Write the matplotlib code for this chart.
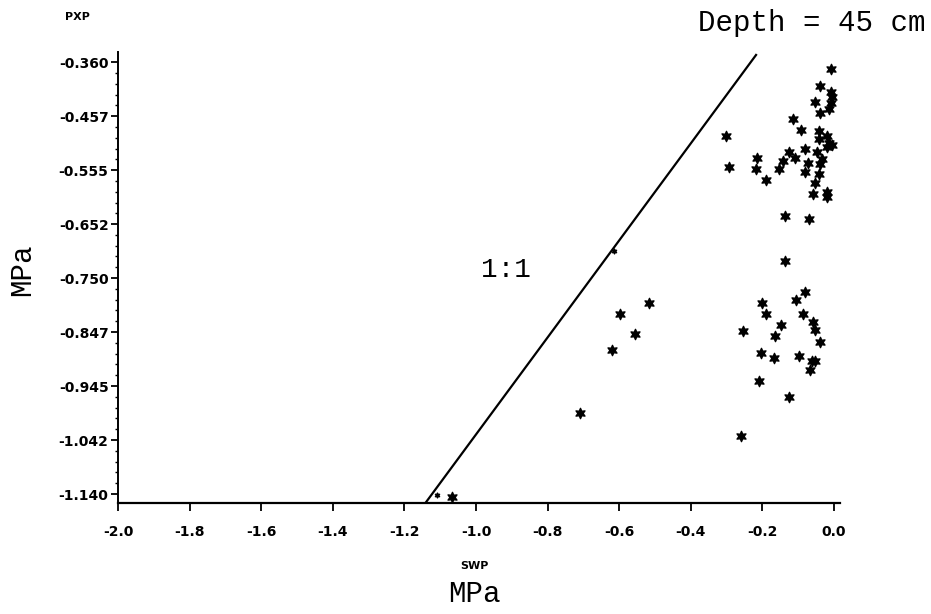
import matplotlib
matplotlib.use("Agg")
import matplotlib.pyplot as plt
from matplotlib.ticker import FixedLocator

# SWP (x) and PXP (y) readings, MPa
swp = [-0.008, -0.039, -0.008, -0.006, -0.053, -0.008, -0.014, -0.037, -0.115, -0.301,
       -0.090, -0.042, -0.020, -0.042, -0.014, -0.006, -0.020, -0.079, -0.126, -0.048,
       -0.034, -0.107, -0.213, -0.143, -0.292, -0.216, -0.073, -0.039, -0.154, -0.081,
       -0.042, -0.188, -0.051, -0.059, -0.020, -0.020, -0.135, -0.070,
       -0.135, -0.081, -0.199, -0.104, -0.188, -0.087, -0.059, -0.146, -0.053, -0.253,
       -0.163, -0.037, -0.202, -0.166, -0.098, -0.062, -0.051, -0.067, -0.208, -0.124,
       -0.258,
       -0.517, -0.596, -0.556, -0.621, -0.708, -1.067]
pxp = [-0.373, -0.403, -0.414, -0.423, -0.432, -0.434, -0.445, -0.452, -0.463, -0.494,
       -0.483, -0.485, -0.494, -0.499, -0.506, -0.510, -0.513, -0.517, -0.523, -0.523,
       -0.535, -0.533, -0.533, -0.539, -0.550, -0.553, -0.542, -0.544, -0.553, -0.559,
       -0.562, -0.573, -0.578, -0.598, -0.595, -0.604, -0.638, -0.643,
       -0.719, -0.775, -0.795, -0.790, -0.815, -0.815, -0.829, -0.835, -0.844, -0.846,
       -0.855, -0.866, -0.885, -0.894, -0.891, -0.900, -0.900, -0.916, -0.936, -0.965,
       -1.035,
       -0.795, -0.815, -0.851, -0.880, -0.994, -1.145]

# small marks lying on the 1:1 line
small_x = [-0.615, -1.110]
small_y = [-0.701, -1.142]

# the drawn "1:1" line
line_x = [-1.141, -0.217]
line_y = [-1.156, -0.347]

xticks = [-2.0, -1.8, -1.6, -1.4, -1.2, -1.0, -0.8, -0.6, -0.4, -0.2, 0.0]
xlabels = ["-2.0", "-1.8", "-1.6", "-1.4", "-1.2", "-1.0", "-0.8", "-0.6", "-0.4", "-0.2", "0.0"]
yticks = [-0.360, -0.4575, -0.555, -0.6525, -0.750, -0.8475, -0.945, -1.0425, -1.140]
ylabels = ["-0.360", "-0.457", "-0.555", "-0.652", "-0.750", "-0.847", "-0.945", "-1.042", "-1.140"]

fig = plt.figure(figsize=(9.31, 6.14), dpi=100)
ax = fig.add_axes([0.127, 0.181, 0.775, 0.734])

ax.plot(line_x, line_y, color="black", lw=1.6)
ax.scatter(swp, pxp, marker=(6, 1, 0), s=55, color="black", zorder=3)
ax.scatter(small_x, small_y, marker=(6, 1, 0), s=12, color="black", zorder=3)

ax.set_xlim(-2.0, 0.017)
ax.set_ylim(-1.156, -0.342)
for s in ["top", "right"]:
    ax.spines[s].set_visible(False)
ax.spines["left"].set_linewidth(1.4)
ax.spines["bottom"].set_linewidth(1.6)

ax.set_xticks(xticks)
ax.set_xticklabels(xlabels)
ax.set_yticks(yticks)
ax.set_yticklabels(ylabels)
minor = []
for i in range(len(yticks) - 1):
    for k in range(1, 5):
        minor.append(yticks[i] - k * 0.0975 / 5)
ax.yaxis.set_minor_locator(FixedLocator(minor))
ax.tick_params(axis="both", which="major", length=6, width=1.3, labelsize=10)
ax.tick_params(axis="x", which="major", pad=10)
ax.tick_params(axis="y", which="major", length=5, pad=2)
ax.tick_params(axis="y", which="minor", length=2.5, width=1.0)
for lab in ax.get_xticklabels() + ax.get_yticklabels():
    lab.set_fontweight("bold")

fig.text(0.083, 0.972, "PXP", fontsize=8, fontweight="bold", ha="center", va="center")
fig.text(0.510, 0.078, "SWP", fontsize=8, fontweight="bold", ha="center", va="center")
fig.text(0.510, 0.033, "MPa", fontsize=21, family="Liberation Mono", ha="center", va="center")
fig.text(0.024, 0.560, "MPa", fontsize=21, family="Liberation Mono", ha="center", va="center",
         rotation=90)
fig.text(0.994, 0.962, "Depth = 45 cm", fontsize=21, family="Liberation Mono", ha="right",
         va="center")
fig.text(0.543, 0.560, "1:1", fontsize=20, family="Liberation Mono", ha="center", va="center")

fig.savefig("out.png", dpi=100)
plt.close(fig)
